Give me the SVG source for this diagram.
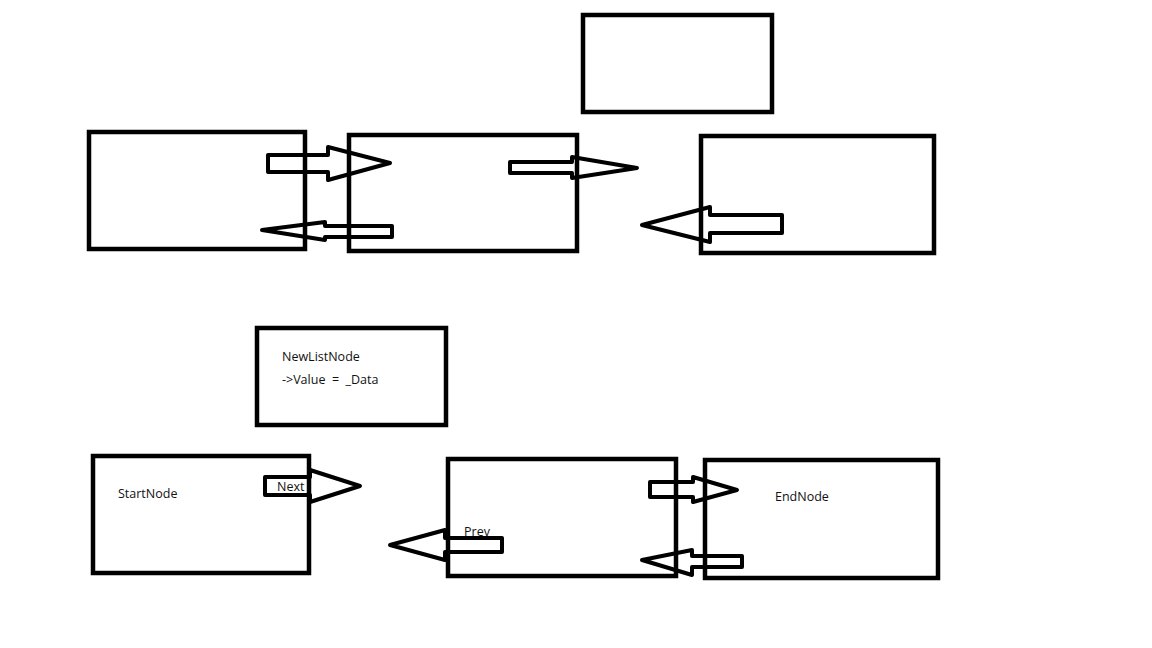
<svg xmlns="http://www.w3.org/2000/svg" width="1152" height="648" viewBox="0 0 1152 648">
<style>
.box{fill:none;stroke:#000;stroke-width:4.5}
.arr{fill:none;stroke:#000;stroke-width:4;stroke-linejoin:round}
.t{font-family:"Open Sans","Noto Sans",sans-serif;font-size:12.5px;fill:#111;white-space:pre}
</style>
<rect width="1152" height="648" fill="#fff"/>
<g id="node-top1"><rect class="box" x="89" y="132" width="216" height="117"/></g>
<g id="node-top2"><rect class="box" x="349" y="135" width="228" height="116"/></g>
<g id="node-top3"><rect class="box" x="701" y="136" width="233" height="117"/></g>
<g id="node-top-new"><rect class="box" x="583" y="15" width="189" height="97"/></g>
<g id="node-newlistnode"><rect class="box" x="257" y="328" width="189" height="97"/>
<text class="t" x="282" y="361">NewListNode</text>
<text class="t" x="282" y="384" xml:space="preserve">-&gt;Value  =  _Data</text></g>
<g id="node-start"><rect class="box" x="93" y="456" width="216" height="117"/>
<text class="t" x="118" y="498">StartNode</text></g>
<g id="node-mid"><rect class="box" x="448" y="459" width="228" height="117"/></g>
<g id="node-end"><rect class="box" x="705" y="460" width="233" height="118"/>
<text class="t" x="775" y="501">EndNode</text></g>
<g id="connectors">
<polygon class="arr" points="268,155 328,155 328,147 390,163 328,180 328,172 268,172"/>
<polygon class="arr" points="510,162 572,162 572,157 637,168 572,178 572,173 510,173"/>
<polygon class="arr" points="392,226 325,226 325,222 262,230 325,240 325,237 392,237"/>
<polygon class="arr" points="782,215 710,215 710,207 642,225 710,242 710,233 782,233"/>
<polygon class="arr" points="265,477 310,477 310,470 360,486 310,502 310,495 265,495"/>
<text class="t" x="277" y="491">Next</text>
<polygon class="arr" points="502,538 445,538 445,530 390,545 445,560 445,552 502,552"/>
<text class="t" x="464" y="536">Prev</text>
<polygon class="arr" points="650,482 693,482 693,477 737,490 693,502 693,497 650,497"/>
<polygon class="arr" points="742,556 692,556 692,550 642,560 692,575 692,567 742,567"/>
</g>
</svg>
